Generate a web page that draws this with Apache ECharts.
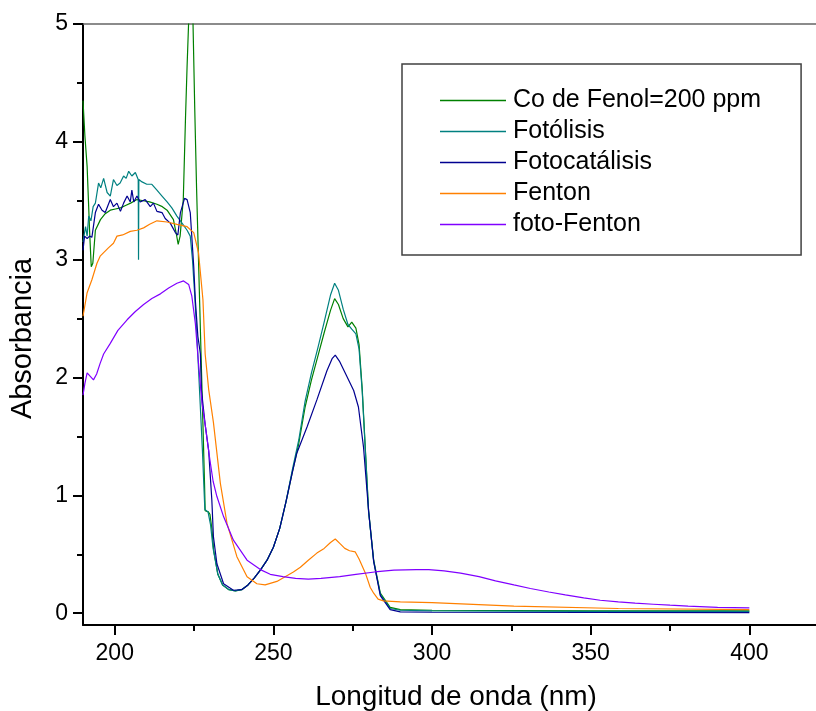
<!DOCTYPE html>
<html>
<head>
<meta charset="utf-8">
<script src="https://cdn.jsdelivr.net/npm/echarts@6/dist/echarts.min.js"></script>
<style>html,body{margin:0;padding:0;background:#fff}#c{width:816px;height:711px}</style>
</head>
<body>
<div id="c"></div>
<script>
var seriesNames = ['Co de Fenol=200 ppm', 'Fotólisis', 'Fotocatálisis', 'Fenton', 'foto-Fenton'];
var xTicks = [200, 250, 300, 350, 400];
var xMinorTicks = [225, 275, 325, 375];
var yTicks = [0, 1, 2, 3, 4, 5];
var yMinorTicks = [0.5, 1.5, 2.5, 3.5, 4.5];

var fenolX = [190, 190.6, 191.3, 192.1, 192.6, 193.1, 193.9, 195.5, 197, 198.6, 200.2, 201.8, 203.4, 205, 207, 209, 211, 213.3, 215, 216.5, 218.5, 219.4, 220, 220.6, 221.6, 222.3, 222.8, 223.4, 224, 224.6, 225.2, 225.8, 226.3, 226.8, 227.3, 227.8, 228.3, 228.5, 229.5, 230, 230.6, 231.2, 232.5, 234, 236, 238, 240, 242, 244, 246, 248, 250, 252, 254, 256, 258, 260, 262, 264, 266, 268, 269.3, 270.5, 272, 273.5, 274.7, 276, 277, 278, 279, 280, 281.6, 283.7, 286.8, 290, 300, 350, 400];
var fenolY = [4.35, 4.05, 3.79, 3.23, 2.94, 2.97, 3.25, 3.34, 3.39, 3.42, 3.43, 3.44, 3.46, 3.48, 3.51, 3.50, 3.49, 3.47, 3.45, 3.42, 3.34, 3.22, 3.13, 3.2, 3.51, 4.2, 4.64, 5.1, 5.2, 5.1, 4.3, 3.6, 3.1, 2.6, 2.1, 1.6, 1.1, 0.87, 0.86, 0.84, 0.72, 0.53, 0.33, 0.24, 0.2, 0.19, 0.2, 0.24, 0.3, 0.37, 0.45, 0.56, 0.72, 0.95, 1.2, 1.44, 1.75, 1.98, 2.18, 2.38, 2.57, 2.67, 2.62, 2.5, 2.43, 2.47, 2.42, 2.28, 1.9, 1.38, 0.87, 0.45, 0.17, 0.05, 0.03, 0.025, 0.02, 0.02];

var fotolisisX = [190, 190.8, 191.3, 191.8, 192.5, 193.2, 193.9, 194.9, 195.6, 196.5, 197.6, 198.6, 199.6, 200.7, 201.7, 202.8, 203.6, 204.4, 205.4, 206.5, 207.4, 207.5, 207.6, 208.6, 210.1, 211.7, 213.3, 214.9, 216.5, 218, 219.6, 221.2, 222.8, 223.8, 224.5, 225.2, 226, 226.8, 227.6, 228.4, 229.4, 230.2, 231, 232.5, 234, 236, 238, 240, 242, 244, 246, 248, 250, 252, 254, 256, 258, 260, 262, 264, 266, 268, 269.3, 270.5, 272, 273.5, 274.7, 276, 277, 278, 279, 280, 281.6, 283.7, 286.8, 290, 300, 350, 400];
var fotolisisY = [3.15, 3.28, 3.2, 3.37, 3.33, 3.45, 3.48, 3.65, 3.61, 3.69, 3.57, 3.54, 3.68, 3.63, 3.65, 3.71, 3.69, 3.75, 3.71, 3.74, 3.68, 3.0, 3.68, 3.66, 3.64, 3.64, 3.59, 3.54, 3.49, 3.44, 3.37, 3.31, 3.25, 3.2, 3.0, 2.7, 2.3, 1.85, 1.4, 0.88, 0.86, 0.75, 0.55, 0.33, 0.24, 0.2, 0.19, 0.2, 0.24, 0.3, 0.37, 0.45, 0.56, 0.72, 0.95, 1.22, 1.47, 1.8, 2.04, 2.25, 2.47, 2.7, 2.80, 2.74, 2.58, 2.45, 2.41, 2.37, 2.24, 1.88, 1.37, 0.86, 0.44, 0.16, 0.04, 0.025, 0.02, 0.015, 0.015];

var fotocatX = [190, 190.5, 191.3, 192.1, 192.8, 193.9, 194.9, 196, 197, 198.6, 199.6, 200.7, 201.8, 202.8, 203.9, 204.9, 205.4, 206, 207, 208, 209.6, 211.2, 212.2, 213.3, 214.9, 215.9, 217.5, 219.1, 219.9, 220.7, 222, 222.8, 223.8, 224.9, 225.4, 226.2, 227, 227.3, 228.5, 229.6, 230.6, 231.1, 232.2, 234.3, 237.4, 240, 242, 244, 246, 248, 250, 252, 254, 256, 257.4, 260.6, 263.7, 266.9, 268.5, 269.5, 270.8, 272.6, 275.3, 276.8, 278.4, 280, 281.6, 283.7, 286.8, 290, 300, 350, 400];
var fotocatY = [3.08, 3.2, 3.18, 3.2, 3.19, 3.40, 3.47, 3.42, 3.40, 3.51, 3.45, 3.48, 3.41, 3.48, 3.54, 3.49, 3.59, 3.49, 3.54, 3.49, 3.51, 3.45, 3.48, 3.41, 3.40, 3.35, 3.31, 3.23, 3.21, 3.40, 3.52, 3.51, 3.40, 2.94, 2.66, 2.35, 2.2, 1.9, 1.6, 1.38, 0.96, 0.65, 0.42, 0.25, 0.195, 0.2, 0.24, 0.3, 0.37, 0.45, 0.56, 0.72, 0.95, 1.2, 1.36, 1.58, 1.81, 2.06, 2.16, 2.19, 2.14, 2.04, 1.89, 1.75, 1.41, 0.87, 0.44, 0.15, 0.03, 0.012, 0.008, 0.006, 0.005];

var fentonX = [190, 191.3, 192.8, 194.4, 195.4, 196.5, 198, 199.6, 200.7, 202.5, 204.9, 207, 209.1, 211, 213.3, 216.5, 219.6, 222.8, 224.9, 226.4, 227.8, 228.5, 229.6, 231.1, 233.3, 235.4, 238.5, 241.7, 244.8, 247.4, 251.1, 256.3, 258.5, 261, 263.7, 266, 268, 269.5, 271, 272.5, 274, 275.8, 277, 279, 280.5, 281.6, 283, 284.7, 290, 300, 325.8, 358.7, 400];
var fentonY = [2.52, 2.72, 2.83, 2.97, 3.03, 3.06, 3.1, 3.14, 3.2, 3.21, 3.24, 3.25, 3.27, 3.30, 3.33, 3.32, 3.30, 3.28, 3.23, 3.06, 2.66, 2.2, 1.9, 1.62, 1.10, 0.76, 0.48, 0.31, 0.25, 0.24, 0.27, 0.35, 0.39, 0.45, 0.51, 0.55, 0.6, 0.63, 0.59, 0.55, 0.53, 0.52, 0.46, 0.34, 0.22, 0.17, 0.12, 0.105, 0.096, 0.09, 0.06, 0.04, 0.03];

var fotoFentonX = [190, 190.6, 191.3, 192.3, 193.3, 194.3, 195.4, 196.5, 198.6, 201, 203.9, 206.5, 209.1, 211.7, 214.4, 217, 219.6, 221.7, 223.3, 224.3, 225.4, 226.4, 227.5, 228.5, 230, 231, 232.2, 234.3, 237.4, 241.7, 245.9, 249, 253, 257, 261, 265, 270.9, 276, 281.9, 288, 295, 299, 303.8, 309, 314.8, 320, 325.8, 331, 336.8, 342, 347.8, 353, 358.7, 364, 369.7, 375, 380.7, 390, 400];
var fotoFentonY = [1.85, 1.95, 2.04, 2.01, 1.98, 2.03, 2.12, 2.2, 2.29, 2.40, 2.49, 2.56, 2.62, 2.67, 2.71, 2.76, 2.80, 2.82, 2.79, 2.69, 2.46, 2.12, 1.78, 1.6, 1.3, 1.12, 0.99, 0.82, 0.62, 0.45, 0.37, 0.33, 0.31, 0.295, 0.29, 0.295, 0.31, 0.33, 0.35, 0.365, 0.37, 0.37, 0.36, 0.34, 0.31, 0.275, 0.24, 0.21, 0.18, 0.155, 0.13, 0.11, 0.096, 0.085, 0.076, 0.068, 0.06, 0.05, 0.045];

var colors = ['#008000', '#008080', '#000090', '#FF8000', '#8000FF'];
var xs = [fenolX, fotolisisX, fotocatX, fentonX, fotoFentonX];
var ys = [fenolY, fotolisisY, fotocatY, fentonY, fotoFentonY];

function zip(a, b) { return a.map(function (v, i) { return [v, b[i]]; }); }

var FONT = '"Liberation Sans", Arial, sans-serif';
var chart = echarts.init(document.getElementById('c'), null, { renderer: 'canvas' });
var series = seriesNames.map(function (n, i) {
  return {
    name: n, type: 'line', data: zip(xs[i], ys[i]),
    xAxisIndex: 0, yAxisIndex: 0,
    showSymbol: false, symbol: 'none', smooth: false,
    lineStyle: { color: colors[i], width: 1.2 },
    itemStyle: { color: colors[i] },
    clip: true, animation: false
  };
});

chart.setOption({
  animation: false,
  backgroundColor: '#fff',
  grid: { left: 83, right: 0, top: 24, bottom: 86, containLabel: false, outerBoundsMode: 'none' },
  legend: {
    orient: 'vertical', left: 402, top: 64,
    padding: [24, 40, 18, 38],
    borderColor: '#404040', borderWidth: 1.5,
    itemWidth: 66, itemHeight: 1.5, itemGap: 6,
    icon: 'rect',
    data: seriesNames,
    textStyle: { fontFamily: FONT, fontSize: 25, color: '#000', lineHeight: 24, padding: [0, 0, 0, 2] }
  },
  xAxis: [
    {
      type: 'value', min: 190, max: 421, position: 'bottom',
      axisLine: { show: true, onZero: false, lineStyle: { color: '#000', width: 2 } },
      axisTick: { show: true, inside: false, length: 10, customValues: xTicks, lineStyle: { color: '#000', width: 2 } },
      axisLabel: { show: true, customValues: xTicks, margin: 17, fontFamily: FONT, fontSize: 23, color: '#000' },
      splitLine: { show: false },
      name: 'Longitud de onda (nm)', nameLocation: 'middle', nameGap: 58,
      nameTextStyle: { fontFamily: FONT, fontSize: 28, color: '#000', padding: [0, 0, 0, 13] }
    },
    {
      type: 'value', min: 190, max: 421, position: 'bottom',
      axisLine: { show: false, onZero: false },
      axisTick: { show: true, inside: false, length: 6, customValues: xMinorTicks, lineStyle: { color: '#000', width: 2 } },
      axisLabel: { show: false },
      splitLine: { show: false }
    },
    {
      type: 'value', min: 190, max: 421, position: 'top',
      axisLine: { show: true, onZero: false, lineStyle: { color: '#666', width: 1.5 } },
      axisTick: { show: false }, axisLabel: { show: false }, splitLine: { show: false }
    }
  ],
  yAxis: [
    {
      type: 'value', min: -0.1, max: 5, position: 'left',
      axisLine: { show: true, onZero: false, lineStyle: { color: '#000', width: 2 } },
      axisTick: { show: true, inside: false, length: 10, customValues: yTicks, lineStyle: { color: '#000', width: 2 } },
      axisLabel: { show: true, customValues: yTicks, margin: 15, fontFamily: FONT, fontSize: 23, color: '#000' },
      splitLine: { show: false },
      name: 'Absorbancia', nameLocation: 'middle', nameGap: 46, nameRotate: 90,
      nameTextStyle: { fontFamily: FONT, fontSize: 29, color: '#000', padding: [0, 28, 0, 0] }
    },
    {
      type: 'value', min: -0.1, max: 5, position: 'left',
      axisLine: { show: false, onZero: false },
      axisTick: { show: true, inside: false, length: 6, customValues: yMinorTicks, lineStyle: { color: '#000', width: 2 } },
      axisLabel: { show: false }, splitLine: { show: false }
    }
  ],
  series: series
});
</script>
</body>
</html>
